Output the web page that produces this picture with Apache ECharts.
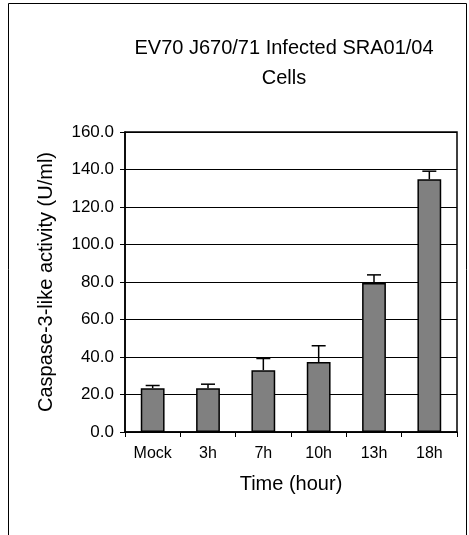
<!DOCTYPE html>
<html>
<head>
<meta charset="utf-8">
<script src="https://cdn.jsdelivr.net/npm/echarts@6/dist/echarts.min.js"></script>
<style>
html,body{margin:0;padding:0;background:#fff;}
#c{width:469px;height:535px;}
</style>
</head>
<body>
<div id="c"></div>
<script>
const categories = ['Mock', '3h', '7h', '10h', '13h', '18h'];
const values = [23.4, 23.3, 33.0, 37.3, 79.5, 134.8];
const errors = [1.4, 2.2, 6.2, 8.7, 4.3, 4.3];
const yTicks = [0, 20, 40, 60, 80, 100, 120, 140, 160];

const FONT = "'Liberation Sans', Arial, sans-serif";
const chart = echarts.init(document.getElementById('c'), null, {renderer: 'canvas'});

const errData = categories.map((c, i) => [i, values[i], values[i] + errors[i]]);

chart.setOption({
  animation: false,
  backgroundColor: '#fff',
  title: {
    text: 'EV70 J670/71 Infected SRA01/04\nCells',
    left: 279,
    top: 28,
    textAlign: 'center',
    textStyle: {fontFamily: FONT, fontSize: 20, fontWeight: 'normal', color: '#000', lineHeight: 30}
  },
  graphic: [{
    type: 'rect',
    shape: {x: 8.5, y: 3.5, width: 458, height: 600},
    style: {fill: 'none', stroke: '#000', lineWidth: 1},
    silent: true
  }],
  grid: {
    left: 125, right: 12, top: 132, bottom: 103,
    show: true, borderColor: '#000', borderWidth: 1.5, backgroundColor: 'transparent'
  },
  xAxis: {
    type: 'category',
    data: categories,
    name: 'Time (hour)',
    nameLocation: 'middle',
    nameGap: 42,
    nameTextStyle: {fontFamily: FONT, fontSize: 20, color: '#000'},
    axisLine: {lineStyle: {color: '#000', width: 1.5}},
    axisTick: {show: true, inside: false, length: 5, lineStyle: {color: '#000', width: 1}},
    axisLabel: {fontFamily: FONT, fontSize: 16, color: '#000', margin: 14},
    splitLine: {show: false}
  },
  yAxis: {
    type: 'value',
    min: yTicks[0],
    max: yTicks[yTicks.length - 1],
    interval: yTicks[1] - yTicks[0],
    name: 'Caspase-3-like activity (U/ml)',
    nameLocation: 'middle',
    nameGap: 69,
    nameTextStyle: {fontFamily: FONT, fontSize: 20, color: '#000'},
    axisLine: {show: true, lineStyle: {color: '#000', width: 1.5}},
    axisTick: {show: true, inside: false, length: 5, lineStyle: {color: '#000', width: 1}},
    axisLabel: {fontFamily: FONT, fontSize: 17, color: '#000', margin: 11,
      formatter: v => v.toFixed(1)},
    splitLine: {show: true, lineStyle: {color: '#000', width: 1}}
  },
  series: [
    {
      type: 'bar',
      data: values,
      barWidth: '43%',
      itemStyle: {color: '#808080', borderColor: '#000', borderWidth: 1.5},
      z: 2
    },
    {
      type: 'custom',
      data: errData,
      z: 3,
      renderItem: function (params, api) {
        const x = api.value(0);
        const lo = api.coord([x, api.value(1)]);
        const hi = api.coord([x, api.value(2)]);
        const half = 7;
        return {
          type: 'group',
          children: [
            {type: 'line', shape: {x1: lo[0], y1: lo[1], x2: hi[0], y2: hi[1]},
              style: {stroke: '#000', lineWidth: 1.5}},
            {type: 'line', shape: {x1: hi[0] - half, y1: hi[1], x2: hi[0] + half, y2: hi[1]},
              style: {stroke: '#000', lineWidth: 1.5}}
          ]
        };
      }
    }
  ]
});
</script>
</body>
</html>
